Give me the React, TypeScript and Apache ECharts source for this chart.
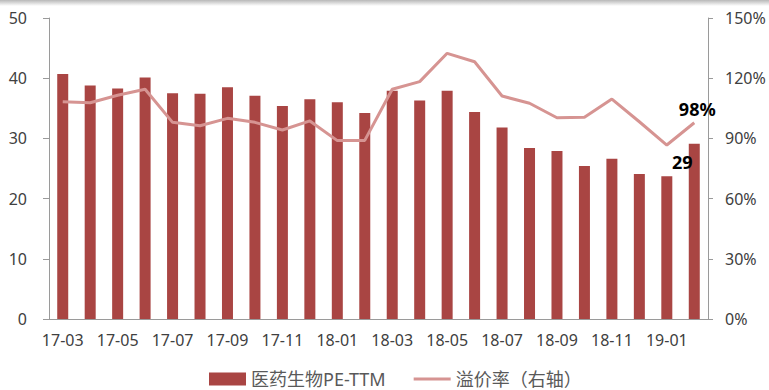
import React, { useEffect, useRef } from "react";
import * as echarts from "echarts";

const categories = [
  "17-03", "17-04", "17-05", "17-06", "17-07", "17-08", "17-09", "17-10", "17-11", "17-12",
  "18-01", "18-02", "18-03", "18-04", "18-05", "18-06", "18-07", "18-08", "18-09", "18-10",
  "18-11", "18-12", "19-01", "19-02",
];

const peTTM = [
  40.7, 38.8, 38.3, 40.1, 37.5, 37.4, 38.5, 37.1, 35.4, 36.5,
  36.0, 34.2, 37.9, 36.3, 37.9, 34.4, 31.8, 28.4, 27.9, 25.4,
  26.6, 24.1, 23.7, 29.1,
];

const premium = [
  108.3, 107.8, 111.5, 114.5, 98.0, 96.3, 100.0, 98.0, 94.2, 98.7,
  88.9, 89.0, 114.5, 118.3, 132.4, 128.2, 111.1, 107.5, 100.3, 100.5,
  109.6, 98.3, 86.7, 97.8,
];

const leftTicks = [0, 10, 20, 30, 40, 50];
const rightTicks = [0, 30, 60, 90, 120, 150];

const barName = "医药生物PE-TTM";
const lineName = "溢价率（右轴）";

const BAR_COLOR = "#A94543";
const LINE_COLOR = "#D69492";
const AXIS_COLOR = "#9A9A9A";
const LABEL_COLOR = "#404040";
const FONT = "'Noto Sans', 'Noto Sans CJK SC', sans-serif";

export default function App() {
  const ref = useRef<HTMLDivElement>(null);

  useEffect(() => {
    if (!ref.current) return;
    const chart = echarts.init(ref.current, undefined, { renderer: "svg" });
    const last = categories.length - 1;
    chart.setOption({
      animation: false,
      backgroundColor: "#ffffff",
      textStyle: { fontFamily: FONT },
      graphic: [
        {
          type: "rect",
          left: 0,
          top: 0,
          shape: { width: 769, height: 6 },
          style: {
            fill: new echarts.graphic.LinearGradient(0, 0, 0, 1, [
              { offset: 0, color: "#b8b8b8" },
              { offset: 1, color: "#ffffff" },
            ]),
          },
          silent: true,
        },
      ],
      grid: { left: 49, right: 61, top: 18, bottom: 71, containLabel: false },
      legend: {
        left: 204,
        top: 365,
        itemWidth: 37,
        itemHeight: 13,
        itemGap: 28,
        symbolKeepAspect: true,
        textStyle: { fontSize: 18, lineHeight: 18, color: "#595959", fontFamily: FONT },
        data: [
          { name: barName, icon: "rect" },
          { name: lineName, icon: "path://M0,0 H38 V3 H0 Z" },
        ],
      },
      xAxis: {
        type: "category",
        data: categories,
        boundaryGap: true,
        axisLine: { lineStyle: { color: AXIS_COLOR, width: 1 } },
        axisTick: { interval: 1, length: 5, lineStyle: { color: AXIS_COLOR } },
        axisLabel: { interval: 1, margin: 13, fontSize: 16, color: LABEL_COLOR, fontFamily: FONT },
        splitLine: { show: false },
      },
      yAxis: [
        {
          type: "value",
          min: leftTicks[0],
          max: leftTicks[leftTicks.length - 1],
          interval: 10,
          position: "left",
          axisLine: { show: true, lineStyle: { color: AXIS_COLOR } },
          axisTick: { show: true, length: 6, lineStyle: { color: AXIS_COLOR } },
          axisLabel: { margin: 22, fontSize: 16, color: LABEL_COLOR, fontFamily: FONT },
          splitLine: { show: false },
        },
        {
          type: "value",
          min: rightTicks[0],
          max: rightTicks[rightTicks.length - 1],
          interval: 30,
          position: "right",
          axisLine: { show: true, lineStyle: { color: AXIS_COLOR } },
          axisTick: { show: true, length: 5, lineStyle: { color: AXIS_COLOR } },
          axisLabel: {
            margin: 17,
            fontSize: 16,
            color: LABEL_COLOR,
            fontFamily: FONT,
            formatter: (v: number) => `${v}%`,
          },
          splitLine: { show: false },
        },
      ],
      series: [
        {
          name: barName,
          type: "bar",
          yAxisIndex: 0,
          barWidth: 11,
          itemStyle: { color: BAR_COLOR },
          data: peTTM.map((v, i) =>
            i === last
              ? {
                  value: v,
                  label: {
                    show: true,
                    position: "top",
                    offset: [-12, 32],
                    formatter: () => `${Math.round(v)}`,
                    fontSize: 18,
                    fontWeight: "bold",
                    color: "#000",
                    fontFamily: FONT,
                  },
                }
              : v
          ),
        },
        {
          name: lineName,
          type: "line",
          yAxisIndex: 1,
          symbol: "none",
          smooth: false,
          lineStyle: { color: LINE_COLOR, width: 3 },
          itemStyle: { color: LINE_COLOR },
          data: premium.map((v) => v),
          markPoint: {
            symbol: "circle",
            symbolSize: 0,
            silent: true,
            data: [
              {
                coord: [last, premium[last]],
                value: premium[last],
                label: {
                  show: true,
                  position: "top",
                  distance: 5,
                  offset: [3, 0],
                  formatter: () => `${Math.round(premium[last])}%`,
                  fontSize: 18,
                  fontWeight: "bold",
                  color: "#000",
                  fontFamily: FONT,
                },
              },
            ],
          },
        },
      ],
    });
    return () => chart.dispose();
  }, []);

  return (
    <div
      ref={ref}
      style={{ position: "fixed", left: 0, top: 0, width: 769, height: 390 }}
    />
  );
}
